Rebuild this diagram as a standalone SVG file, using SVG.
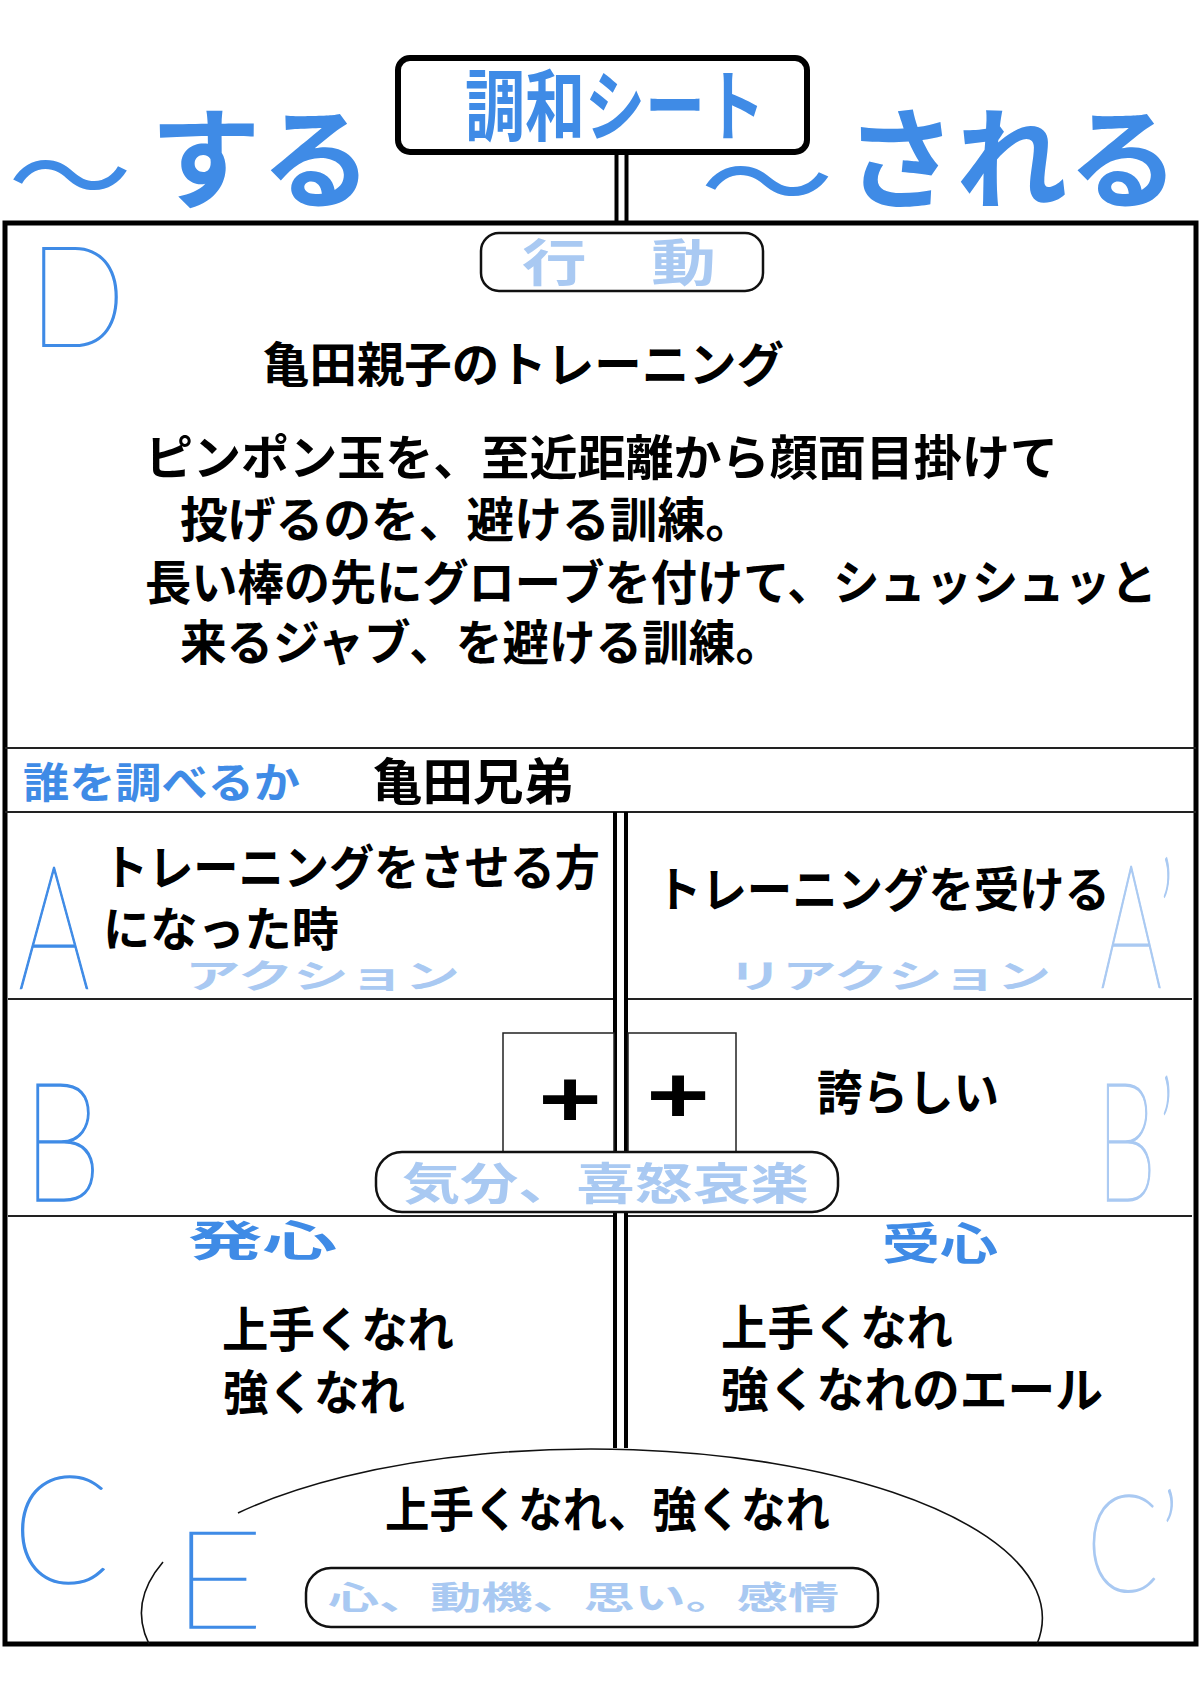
<svg xmlns="http://www.w3.org/2000/svg" width="1200" height="1703" viewBox="0 0 1200 1703">
<style>
.jp{font-family:"Noto Sans CJK JP","Noto Sans CJK SC",sans-serif;font-weight:700;fill:#000}
.wave{font-family:"Noto Sans CJK JP","Noto Sans CJK SC",sans-serif;font-weight:400;fill:#3f8be6}
.blue{fill:#3f8be6}
.light{fill:#a9c9f2}
.hand{font-family:"Lato","Inter","DejaVu Sans",sans-serif;font-weight:200}
.hb{fill:#3f8be6;stroke:#3f8be6;stroke-width:1.6}
.hl{fill:#a9c9f2;stroke:#a9c9f2;stroke-width:1.6}
.thin{stroke:#222;stroke-width:2;fill:none}
.box{stroke:#111;stroke-width:2.5;fill:#fff}
.plus{font-family:"Liberation Sans",Arial,sans-serif;font-weight:700;fill:#000}
.dl{stroke:#000;stroke-width:4;fill:none}
</style>
<rect x="0" y="0" width="1200" height="1703" fill="#fff"/>

<g id="header-words">
  <text class="wave" x="8" y="218" font-size="112" textLength="124" lengthAdjust="spacingAndGlyphs">〜</text>
  <text class="jp blue" x="150" y="200" font-size="110" textLength="222" lengthAdjust="spacingAndGlyphs">する</text>
  <text class="wave" x="700" y="224" font-size="112" textLength="134" lengthAdjust="spacingAndGlyphs">〜</text>
  <text class="jp blue" x="845" y="200" font-size="110" textLength="334" lengthAdjust="spacingAndGlyphs">される</text>
</g>

<g id="frame">
  <rect x="5" y="223" width="1191" height="1421" fill="none" stroke="#000" stroke-width="5"/>
  <line x1="5" y1="748" x2="1196" y2="748" class="thin"/>
  <line x1="5" y1="812" x2="1196" y2="812" class="thin"/>
  <line x1="8" y1="999" x2="613" y2="999" class="thin"/>
  <line x1="628" y1="999" x2="1192" y2="999" class="thin"/>
  <line x1="8" y1="1216" x2="613" y2="1216" class="thin"/>
  <line x1="628" y1="1216" x2="1192" y2="1216" class="thin"/>
</g>

<g id="connectors">
  <line x1="616.5" y1="152" x2="616.5" y2="224" class="dl"/>
  <line x1="626.5" y1="152" x2="626.5" y2="224" class="dl"/>
  <line x1="615" y1="812" x2="615" y2="1448" class="dl"/>
  <line x1="626" y1="812" x2="626" y2="1448" class="dl"/>
</g>

<g id="title">
  <rect x="398" y="58" width="409" height="94" rx="12" fill="#fff" stroke="#000" stroke-width="6"/>
  <text class="jp blue" x="465" y="135" font-size="78" textLength="300" lengthAdjust="spacingAndGlyphs">調和シート</text>
</g>

<g id="action">
  <rect x="481" y="233" width="282" height="58" rx="18" class="box"/>
  <text class="jp light" x="522" y="281" font-size="50" textLength="194" lengthAdjust="spacingAndGlyphs">行　動</text>
</g>

<g id="letter-D"><text class="hand hb" x="28" y="346" font-size="140" textLength="98" lengthAdjust="spacingAndGlyphs">D</text></g>

<g id="behavior-text">
  <text class="jp" x="262" y="382" font-size="48" textLength="522" lengthAdjust="spacingAndGlyphs">亀田親子のトレーニング</text>
  <text class="jp" x="145" y="475" font-size="48" textLength="913" lengthAdjust="spacingAndGlyphs">ピンポン玉を、至近距離から顔面目掛けて</text>
  <text class="jp" x="180" y="537" font-size="48" textLength="573" lengthAdjust="spacingAndGlyphs">投げるのを、避ける訓練。</text>
  <text class="jp" x="145" y="600" font-size="48" textLength="1012" lengthAdjust="spacingAndGlyphs">長い棒の先にグローブを付けて、シュッシュッと</text>
  <text class="jp" x="180" y="660" font-size="48" textLength="602" lengthAdjust="spacingAndGlyphs">来るジャブ、を避ける訓練。</text>
</g>

<g id="who">
  <text class="jp blue" x="23" y="798" font-size="42" textLength="277" lengthAdjust="spacingAndGlyphs">誰を調べるか</text>
  <text class="jp" x="372" y="800" font-size="50" textLength="202" lengthAdjust="spacingAndGlyphs">亀田兄弟</text>
</g>

<g id="cell-A">
  <text class="hand hb" x="18" y="988" font-size="172" textLength="72" lengthAdjust="spacingAndGlyphs">A</text>
  <text class="jp" x="103" y="885" font-size="48" textLength="497" lengthAdjust="spacingAndGlyphs">トレーニングをさせる方</text>
  <text class="jp" x="103" y="946" font-size="47" textLength="236" lengthAdjust="spacingAndGlyphs">になった時</text>
  <text class="jp light" x="185" y="988" font-size="33" textLength="275" lengthAdjust="spacingAndGlyphs">アクション</text>
</g>

<g id="cell-A2">
  <text class="jp" x="656" y="907" font-size="48" textLength="454" lengthAdjust="spacingAndGlyphs">トレーニングを受ける</text>
  <text class="jp light" x="728" y="988" font-size="33" textLength="323" lengthAdjust="spacingAndGlyphs">リアクション</text>
  <text class="hand hl" x="1100" y="987" font-size="172" textLength="76" lengthAdjust="spacingAndGlyphs">A’</text>
</g>

<g id="cell-B">
  <text class="hand hb" x="22" y="1201" font-size="166" textLength="80" lengthAdjust="spacingAndGlyphs">B</text>
  <rect x="503" y="1033" width="111" height="119" fill="#fff" stroke="#222" stroke-width="1.5"/>
  <g transform="translate(570,1097) scale(1,0.74)"><text class="plus" x="0" y="39" font-size="108" text-anchor="middle">+</text></g>
</g>

<g id="cell-B2">
  <rect x="628" y="1033" width="108" height="119" fill="#fff" stroke="#222" stroke-width="1.5"/>
  <g transform="translate(678,1093) scale(1,0.74)"><text class="plus" x="0" y="39" font-size="108" text-anchor="middle">+</text></g>
  <text class="jp" x="817" y="1110" font-size="48" textLength="182" lengthAdjust="spacingAndGlyphs">誇らしい</text>
  <text class="hand hl" x="1096" y="1201" font-size="166" textLength="80" lengthAdjust="spacingAndGlyphs">B’</text>
</g>

<g id="emotion">
  <rect x="376" y="1152" width="462" height="60" rx="26" class="box"/>
  <text class="jp light" x="402" y="1200" font-size="44" textLength="407" lengthAdjust="spacingAndGlyphs">気分、喜怒哀楽</text>
</g>

<g id="cell-C">
  <text class="jp blue" x="188" y="1256" font-size="42" textLength="149" lengthAdjust="spacingAndGlyphs">発心</text>
  <text class="jp" x="222" y="1347" font-size="48" textLength="232" lengthAdjust="spacingAndGlyphs">上手くなれ</text>
  <text class="jp" x="223" y="1410" font-size="48" textLength="182" lengthAdjust="spacingAndGlyphs">強くなれ</text>
  <text class="hand hb" x="12" y="1583" font-size="150" textLength="98" lengthAdjust="spacingAndGlyphs">C</text>
</g>

<g id="cell-C2">
  <text class="jp blue" x="882" y="1260" font-size="44" textLength="116" lengthAdjust="spacingAndGlyphs">受心</text>
  <text class="jp" x="721" y="1345" font-size="48" textLength="232" lengthAdjust="spacingAndGlyphs">上手くなれ</text>
  <text class="jp" x="721" y="1407" font-size="48" textLength="382" lengthAdjust="spacingAndGlyphs">強くなれのエール</text>
  <text class="hand hl" x="1086" y="1592" font-size="136" textLength="94" lengthAdjust="spacingAndGlyphs">C’</text>
</g>

<g id="heart">
  <path d="M149,1644 A451,169 0 0 1 163,1562" fill="none" stroke="#111" stroke-width="1.6"/>
  <path d="M238,1513 A451,169 0 0 1 1037,1644" fill="none" stroke="#111" stroke-width="1.6"/>
  <text class="jp" x="385" y="1527" font-size="48" textLength="445" lengthAdjust="spacingAndGlyphs">上手くなれ、強くなれ</text>
  <text class="hand hb" x="172" y="1628" font-size="136" textLength="92" lengthAdjust="spacingAndGlyphs">E</text>
  <rect x="306" y="1568" width="572" height="59" rx="25" class="box"/>
  <text class="jp light" x="328" y="1609" font-size="32" textLength="511" lengthAdjust="spacingAndGlyphs">心、動機、思い。感情</text>
</g>
</svg>
